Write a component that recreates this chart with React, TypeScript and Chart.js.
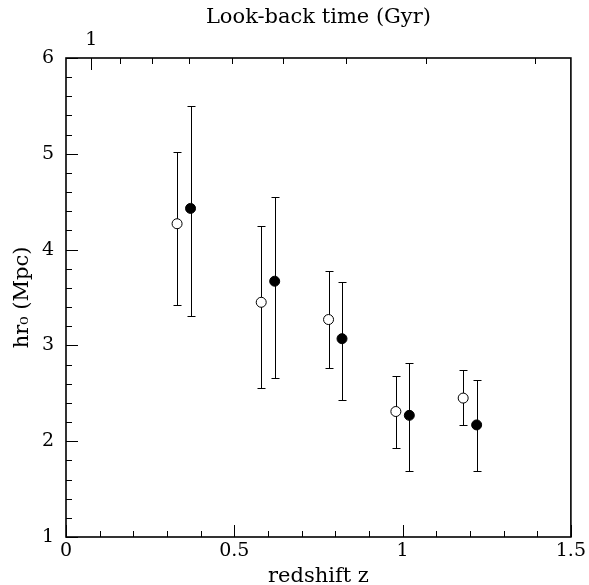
import React, { useEffect, useRef } from "react";
import { Chart, registerables } from "chart.js";

Chart.register(...registerables);

// Open circles
const openZ = [0.33, 0.58, 0.78, 0.98, 1.18];
const openHr0 = [4.27, 3.45, 3.27, 2.31, 2.45];
const openLow = [3.42, 2.56, 2.76, 1.93, 2.17];
const openHigh = [5.02, 4.25, 3.78, 2.68, 2.74];

// Filled circles
const filledZ = [0.37, 0.62, 0.82, 1.02, 1.22];
const filledHr0 = [4.43, 3.67, 3.07, 2.27, 2.17];
const filledLow = [3.31, 2.66, 2.43, 1.69, 1.69];
const filledHigh = [5.5, 4.55, 3.66, 2.82, 2.64];

// Top axis: look-back time ticks (Gyr) placed at their redshift
const lookbackZ = [0.075, 0.161, 0.256, 0.364, 0.493, 0.645, 0.831, 1.071, 1.392];
const lookbackLabels = ["1", "", "", "", "", "", "", "", ""];
const lookbackMajor = [true, false, false, false, false, false, false, false, false];

const X_MIN = 0, X_MAX = 1.5, Y_MIN = 1, Y_MAX = 6;
const FONT = "'DejaVu Serif', serif";

const framePlugin = {
  id: "frameTicks",
  beforeDatasetsDraw(chart: any) {
    const ctx = chart.ctx;
    const { left, right, top, bottom } = chart.chartArea;
    const xs = chart.scales.x;
    const ys = chart.scales.y;
    const x2 = chart.scales.x2;
    const MAJ = 12, MIN = 6;
    ctx.save();
    ctx.strokeStyle = "#000";
    ctx.lineWidth = 1;
    ctx.beginPath();
    // bottom ticks
    for (let k = 0; k <= 15; k++) {
      const px = Math.round(xs.getPixelForValue(k / 10)) + 0.5;
      const len = k % 5 === 0 ? MAJ : MIN;
      ctx.moveTo(px, bottom);
      ctx.lineTo(px, bottom - len);
    }
    // left ticks
    for (let k = 0; k <= 25; k++) {
      const py = Math.round(ys.getPixelForValue(1 + k / 5)) + 0.5;
      const len = k % 5 === 0 ? MAJ : MIN;
      ctx.moveTo(left, py);
      ctx.lineTo(left + len, py);
    }
    // top ticks (look-back time)
    lookbackZ.forEach((z, i) => {
      const px = Math.round(x2.getPixelForValue(z)) + 0.5;
      const len = lookbackMajor[i] ? MAJ : MIN;
      ctx.moveTo(px, top);
      ctx.lineTo(px, top + len);
    });
    ctx.stroke();

    // error bars
    const cap = 4;
    const drawErr = (zs: number[], lo: number[], hi: number[]) => {
      ctx.beginPath();
      zs.forEach((z, i) => {
        const px = Math.round(xs.getPixelForValue(z)) + 0.5;
        const p1 = Math.round(ys.getPixelForValue(lo[i])) + 0.5;
        const p2 = Math.round(ys.getPixelForValue(hi[i])) + 0.5;
        ctx.moveTo(px, p1);
        ctx.lineTo(px, p2);
        ctx.moveTo(px - cap, p1);
        ctx.lineTo(px + cap, p1);
        ctx.moveTo(px - cap, p2);
        ctx.lineTo(px + cap, p2);
      });
      ctx.stroke();
    };
    drawErr(openZ, openLow, openHigh);
    drawErr(filledZ, filledLow, filledHigh);

    // frame
    ctx.lineWidth = 1.6;
    ctx.strokeRect(left, top, right - left, bottom - top);
    ctx.restore();
  },
};

export default function App() {
  const ref = useRef<HTMLCanvasElement | null>(null);
  useEffect(() => {
    if (!ref.current) return;
    const chart = new Chart(ref.current, {
      type: "scatter",
      data: {
        datasets: [
          {
            label: "open",
            data: openZ.map((z, i) => ({ x: z, y: openHr0[i] })),
            pointStyle: "circle",
            pointRadius: 5,
            pointBackgroundColor: "#fff",
            pointBorderColor: "#000",
            pointBorderWidth: 1,
          },
          {
            label: "filled",
            data: filledZ.map((z, i) => ({ x: z, y: filledHr0[i] })),
            pointStyle: "circle",
            pointRadius: 5,
            pointBackgroundColor: "#000",
            pointBorderColor: "#000",
            pointBorderWidth: 1,
          },
        ],
      },
      options: {
        responsive: false,
        animation: false,
        events: [],
        layout: { padding: { left: 0, right: 17, top: 0, bottom: 0 } },
        plugins: { legend: { display: false }, tooltip: { enabled: false } },
        scales: {
          x: {
            type: "linear",
            position: "bottom",
            min: X_MIN,
            max: X_MAX,
            grid: { display: false, drawTicks: false },
            border: { display: false },
            ticks: {
              stepSize: 0.5,
              autoSkip: false,
              maxRotation: 0,
              padding: 3,
              color: "#000",
              font: { family: FONT, size: 19 },
              callback: (v: any) => String(v),
            },
            title: {
              display: true,
              text: "redshift z",
              color: "#000",
              font: { family: FONT, size: 21, lineHeight: 0.8 },
              padding: { top: 0, bottom: 0 },
            },
            afterFit: (s: any) => { s.height = 48; },
          },
          x2: {
            type: "linear",
            position: "top",
            min: X_MIN,
            max: X_MAX,
            grid: { display: false, drawTicks: false },
            border: { display: false },
            afterBuildTicks: (s: any) => {
              s.ticks = lookbackZ.map((v) => ({ value: v }));
            },
            ticks: {
              autoSkip: false,
              maxRotation: 0,
              padding: 7,
              color: "#000",
              font: { family: FONT, size: 19 },
              callback: (_v: any, i: number) => lookbackLabels[i],
            },
            title: {
              display: true,
              text: "Look-back time (Gyr)",
              color: "#000",
              font: { family: FONT, size: 21, lineHeight: 1 },
              padding: { top: 7.5, bottom: 0 },
            },
            afterFit: (s: any) => { s.height = 58; },
          },
          y: {
            type: "linear",
            position: "left",
            min: Y_MIN,
            max: Y_MAX,
            grid: { display: false, drawTicks: false },
            border: { display: false },
            ticks: {
              stepSize: 1,
              autoSkip: false,
              padding: 12,
              color: "#000",
              font: { family: FONT, size: 19 },
            },
            title: {
              display: true,
              text: "hr\u2080 (Mpc)",
              color: "#000",
              font: { family: FONT, size: 21, lineHeight: 1 },
              padding: { top: 12, bottom: 0 },
            },
            afterFit: (s: any) => { s.width = 66; },
          },
        },
      },
      plugins: [framePlugin],
    });
    return () => chart.destroy();
  }, []);
  return (
    <canvas
      ref={ref}
      width={589}
      height={585}
      style={{ position: "absolute", left: 0, top: 0, width: 589, height: 585 }}
    />
  );
}
